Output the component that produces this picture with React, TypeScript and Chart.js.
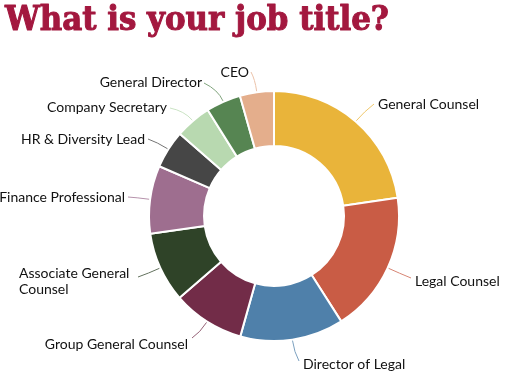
import React, { useEffect, useRef } from "react";
import { Chart, registerables } from "chart.js";

Chart.register(...registerables);

const TITLE = "What is your job title?";
const categories = [
  "General Counsel",
  "Legal Counsel",
  "Director of Legal",
  "Group General Counsel",
  "Associate General Counsel",
  "Finance Professional",
  "HR & Diversity Lead",
  "Company Secretary",
  "General Director",
  "CEO",
];
const values = [22.7, 18.3, 13.4, 9.3, 9.1, 8.8, 4.9, 4.7, 4.5, 4.4];
const colors = [
  "#E9B43A",
  "#C95C45",
  "#4F80AA",
  "#722C48",
  "#2F4328",
  "#9E6E8F",
  "#464646",
  "#B8D9B0",
  "#568552",
  "#E4AE8C",
];
// display lines for each label
const labelLines: string[][] = [
  ["General Counsel"],
  ["Legal Counsel"],
  ["Director of Legal"],
  ["Group General Counsel"],
  ["Associate General", "Counsel"],
  ["Finance Professional"],
  ["HR & Diversity Lead"],
  ["Company Secretary"],
  ["General Director"],
  ["CEO"],
];
// label placement: [textX, textY, align, leaderEndX, leaderEndY]
const labelPos: [number, number, "left" | "right", number, number][] = [
  [378, 104, "left", 374, 104],
  [415, 281, "left", 411, 278],
  [303, 364, "left", 299, 361],
  [188, 344, "right", 192, 338],
  [19, 273, "left", 138, 277],
  [125, 197, "right", 128, 197],
  [145, 139, "right", 148, 139],
  [167, 107, "right", 170, 108],
  [202, 82, "right", 204, 83],
  [249, 72, "right", 251, 72],
];

function lighten(hex: string, amt: number) {
  const n = parseInt(hex.slice(1), 16);
  const r = (n >> 16) & 255, g = (n >> 8) & 255, b = n & 255;
  const f = (c: number) => Math.round(c + (255 - c) * amt);
  return `rgb(${f(r)},${f(g)},${f(b)})`;
}

const labelPlugin = {
  id: "outLabels",
  afterDraw(chart: any) {
    const ctx = chart.ctx;
    const meta = chart.getDatasetMeta(0);
    ctx.save();
    ctx.font = "14px Lato";
    ctx.textBaseline = "middle";
    meta.data.forEach((arc: any, i: number) => {
      const { x, y, startAngle, endAngle, outerRadius } = arc.getProps(
        ["x", "y", "startAngle", "endAngle", "outerRadius"],
        true
      );
      const mid = (startAngle + endAngle) / 2;
      const sx = x + Math.cos(mid) * (outerRadius + 1);
      const sy = y + Math.sin(mid) * (outerRadius + 1);
      const [tx, ty, align, ex, ey] = labelPos[i];
      ctx.strokeStyle = lighten(colors[i], 0.25);
      ctx.lineWidth = 1;
      ctx.beginPath();
      ctx.moveTo(sx, sy);
      const cx = sx + Math.cos(mid) * 12;
      const cy = sy + Math.sin(mid) * 12;
      ctx.quadraticCurveTo(cx, cy, ex, ey);
      ctx.stroke();
      ctx.fillStyle = "#111111";
      ctx.textAlign = align;
      labelLines[i].forEach((ln, k) => {
        ctx.fillText(ln, tx, ty + k * 16);
      });
    });
    ctx.restore();
  },
};

const titlePlugin = {
  id: "bigTitle",
  afterDraw(chart: any) {
    const ctx = chart.ctx;
    ctx.save();
    const fam = "'DejaVu Serif Condensed', 'DejaVu Serif'";
    ctx.font = `bold 100px ${fam}`;
    const w100 = ctx.measureText(TITLE).width;
    const size = Math.min(36, (384 / w100) * 100);
    ctx.font = `bold ${size}px ${fam}`;
    ctx.fillStyle = "#A3183F";
    ctx.strokeStyle = "#A3183F";
    ctx.lineWidth = 1;
    ctx.lineJoin = "round";
    ctx.textAlign = "left";
    ctx.textBaseline = "alphabetic";
    ctx.fillText(TITLE, 5, 30);
    ctx.strokeText(TITLE, 5, 30);
    ctx.restore();
  },
};

export default function App() {
  const ref = useRef<HTMLCanvasElement | null>(null);
  useEffect(() => {
    document.body.style.margin = "0";
    const chart = new Chart(ref.current!, {
      type: "doughnut",
      data: {
        labels: categories,
        datasets: [
          {
            data: values,
            backgroundColor: colors,
            borderColor: "#ffffff",
            borderWidth: 2,
          },
        ],
      },
      options: {
        animation: false,
        responsive: false,
        cutout: "56%",
        layout: { padding: { left: 148, right: 125, top: 90, bottom: 40 } },
        plugins: {
          legend: { display: false },
          tooltip: { enabled: false },
          title: { display: false },
        },
      },
      plugins: [labelPlugin, titlePlugin],
    });
    return () => chart.destroy();
  }, []);
  return (
    <div style={{ position: "absolute", left: 0, top: 0, width: 525, height: 382, background: "#fff" }}>
      <canvas ref={ref} width={525} height={382} aria-label={TITLE} />
    </div>
  );
}
